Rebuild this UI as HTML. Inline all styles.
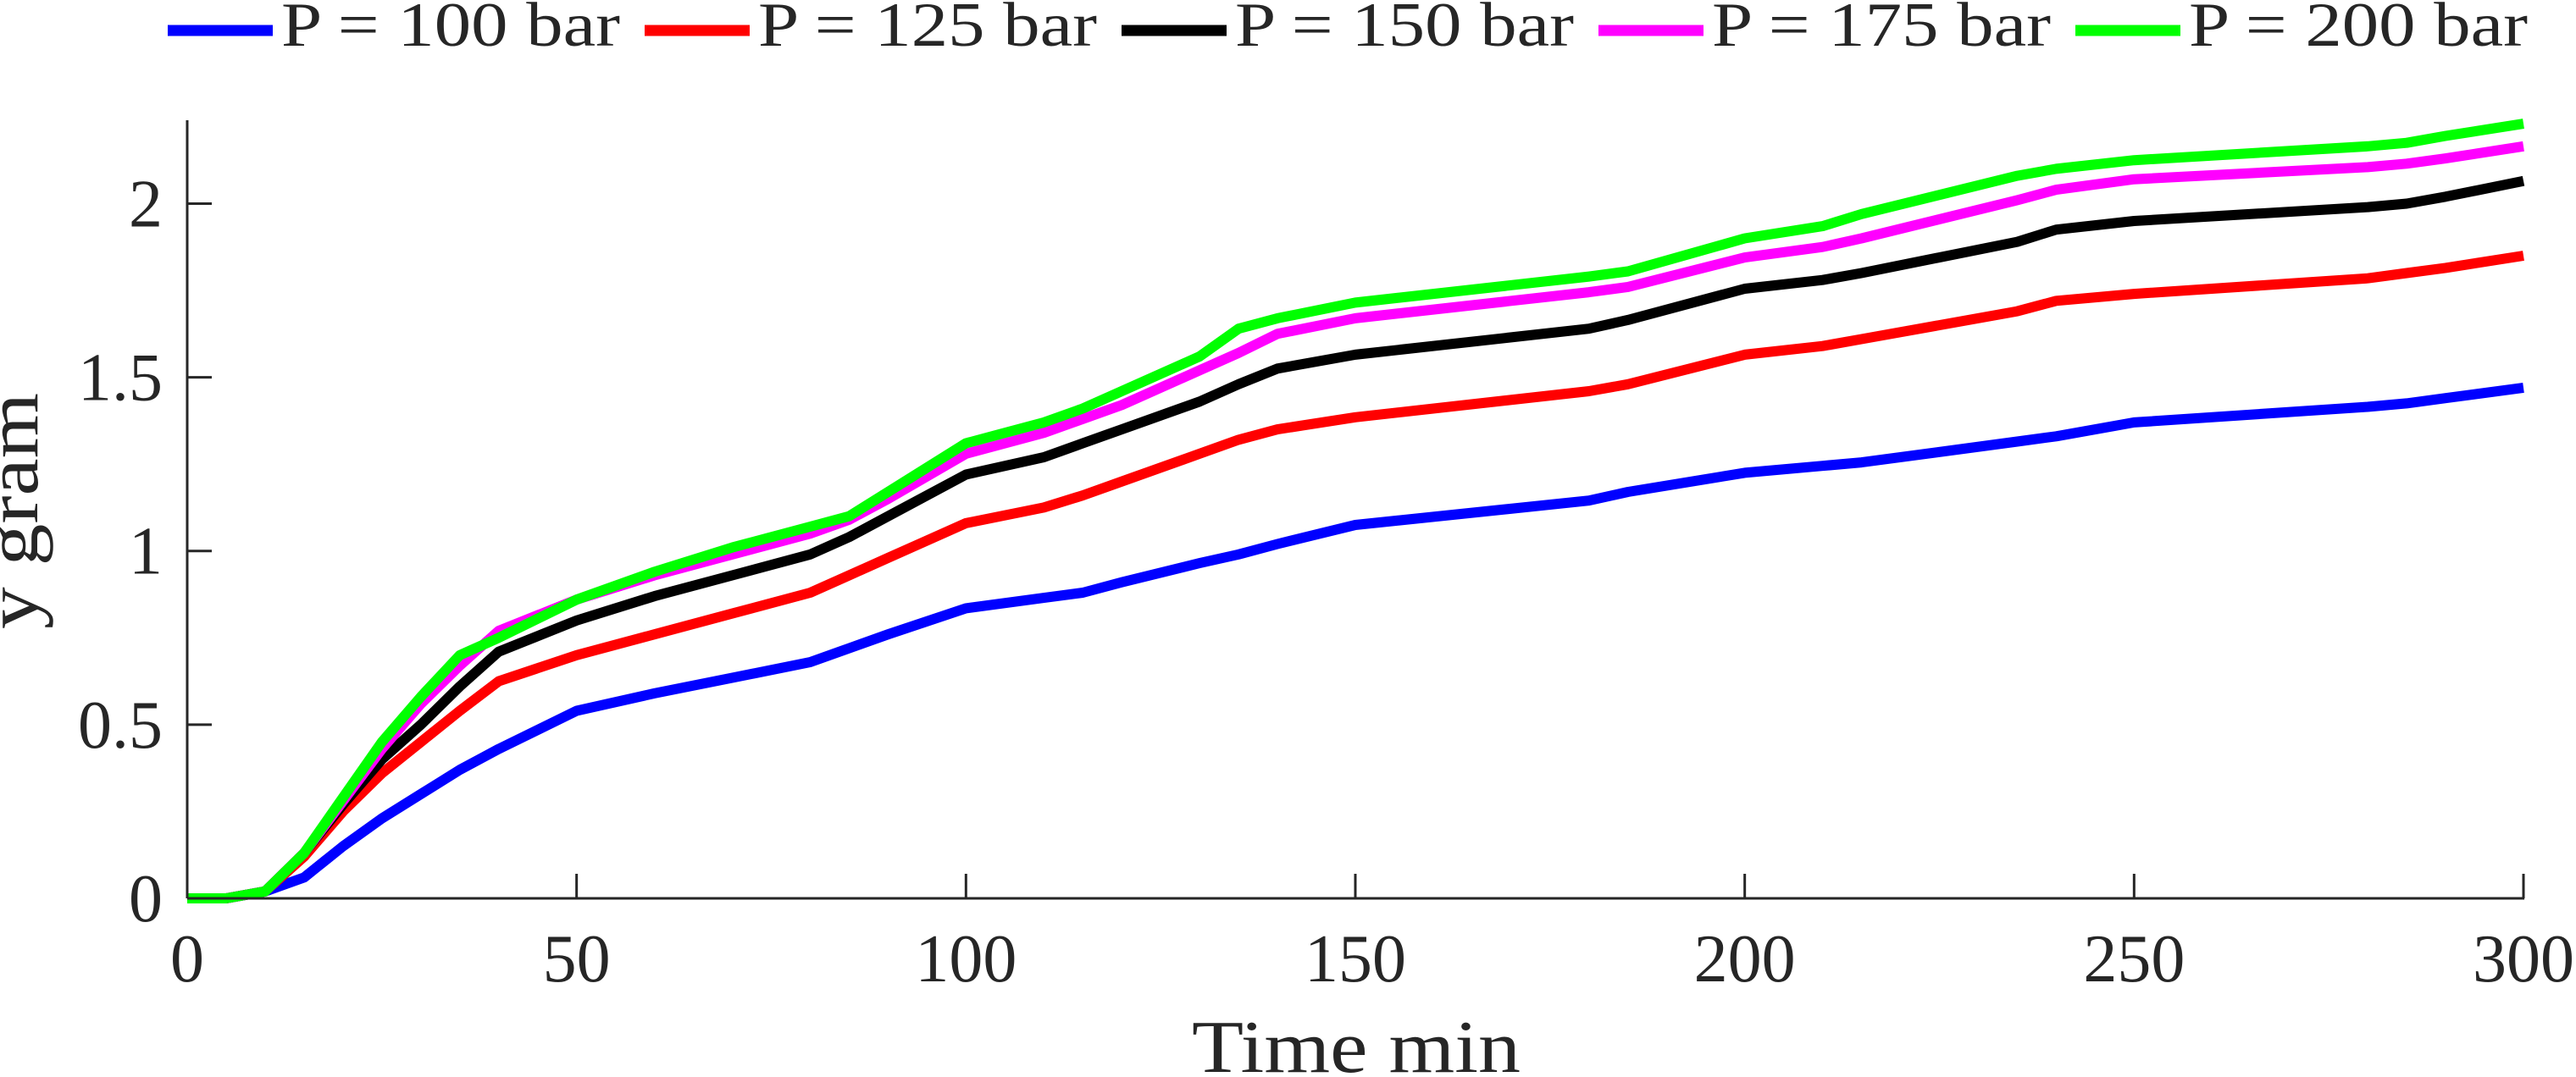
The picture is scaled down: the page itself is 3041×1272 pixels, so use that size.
<!DOCTYPE html>
<html><head><meta charset="utf-8"><style>
html,body{margin:0;padding:0;background:#fff;}
svg{display:block;}
text{font-family:"Liberation Serif",serif;fill:#262626;}
</style></head><body>
<svg id="chart" width="3041" height="1272" viewBox="0 0 3041 1272" xmlns="http://www.w3.org/2000/svg">
<g id="lines"></g>
<g id="axes"></g>
<g id="legend"></g>
</svg>
<script>
const times = [0,5,10,15,20,25,30,35,40,50,60,70,80,85,90,100,110,115,120,130,135,140,150,180,185,200,210,215,235,240,250,280,285,290,300];
const p100 = [0,0,0.02,0.06,0.15,0.23,0.3,0.37,0.43,0.54,0.59,0.635,0.68,0.72,0.76,0.835,0.865,0.88,0.91,0.965,0.99,1.02,1.075,1.145,1.17,1.225,1.245,1.255,1.315,1.33,1.37,1.415,1.425,1.44,1.47];
const p125 = [0,0,0.02,0.12,0.25,0.36,0.45,0.54,0.625,0.7,0.76,0.82,0.88,0.93,0.98,1.08,1.125,1.16,1.2,1.28,1.32,1.35,1.385,1.46,1.48,1.565,1.59,1.61,1.69,1.72,1.74,1.785,1.8,1.815,1.85];
const p150 = [0,0,0.02,0.13,0.27,0.4,0.5,0.61,0.71,0.8,0.87,0.93,0.99,1.04,1.1,1.22,1.27,1.31,1.35,1.43,1.48,1.525,1.565,1.64,1.665,1.755,1.78,1.8,1.89,1.925,1.95,1.99,2.0,2.02,2.065];
const p175 = [0,0,0.02,0.13,0.28,0.43,0.56,0.67,0.77,0.86,0.93,0.99,1.05,1.09,1.15,1.28,1.34,1.38,1.42,1.52,1.57,1.625,1.67,1.745,1.76,1.845,1.875,1.9,2.01,2.04,2.07,2.105,2.115,2.13,2.165];
const p200 = [0,0,0.02,0.13,0.29,0.45,0.58,0.7,0.75,0.86,0.94,1.01,1.07,1.1,1.17,1.31,1.37,1.41,1.46,1.56,1.64,1.67,1.715,1.79,1.805,1.9,1.935,1.97,2.08,2.1,2.125,2.165,2.175,2.195,2.23];
const seriesNames = ["P = 100 bar","P = 125 bar","P = 150 bar","P = 175 bar","P = 200 bar"];
const seriesColors = ["#0000ff","#ff0000","#000000","#ff00ff","#00ff00"];
const xTicks = [0,50,100,150,200,250,300];
const yTicks = [0,0.5,1,1.5,2];
const yTickLabels = ["0","0.5","1","1.5","2"];

const NS="http://www.w3.org/2000/svg";
const X0=221,X1=2979,Y0=1061,Ytop=142;
const xMax=300,yMax=2.24;
const sx=v=>X0+(v/xMax)*(X1-X0);
const sy=v=>Y0-(v/yMax)*(Y0-Ytop);
function mk(tag,attrs,parent){const e=document.createElementNS(NS,tag);for(const k in attrs)e.setAttribute(k,attrs[k]);parent.appendChild(e);return e;}
const gl=document.getElementById('lines'),ga=document.getElementById('axes'),gleg=document.getElementById('legend');
const allSeries=[p100,p125,p150,p175,p200];
allSeries.forEach((s,i)=>{
  const pts=times.map((t,j)=>sx(t).toFixed(1)+','+sy(s[j]).toFixed(1)).join(' ');
  const pl=mk('polyline',{points:pts,fill:'none',stroke:seriesColors[i],'stroke-width':12,'stroke-linejoin':'round'},gl);
  
  
});
const xa=mk('line',{x1:X0,y1:Y0,x2:X1+1,y2:Y0,stroke:'#262626','stroke-width':3},ga);


const ya=mk('line',{x1:X0,y1:Y0,x2:X0,y2:Ytop,stroke:'#262626','stroke-width':3},ga);


xTicks.forEach(v=>{
  const x=sx(v);
  const t=mk('line',{x1:x,y1:Y0,x2:x,y2:Y0-29,stroke:'#262626','stroke-width':3},ga);
  
  
  const l=mk('text',{x:x,y:1159,'font-size':80,'text-anchor':'middle'},ga);
  l.textContent=String(v);
  
  
});
yTicks.forEach((v,i)=>{
  const y=sy(v);
  const t=mk('line',{x1:X0,y1:y,x2:X0+29,y2:y,stroke:'#262626','stroke-width':3},ga);
  
  
  const l=mk('text',{x:192,y:y+27,'font-size':80,'text-anchor':'end'},ga);
  l.textContent=yTickLabels[i];
  
  
});
const xt=mk('text',{x:1601,y:1266,'font-size':88,'text-anchor':'middle',textLength:388,lengthAdjust:'spacingAndGlyphs'},ga);
xt.textContent='Time min';


const yt=mk('text',{x:0,y:0,'font-size':88,'text-anchor':'start',textLength:279,lengthAdjust:'spacingAndGlyphs',transform:'translate(44,743) rotate(-90)'},ga);
yt.textContent='y gram';


const legX=[198,761,1324,1887,2450];
seriesNames.forEach((n,i)=>{
  const g=mk('g',{},gleg);
  
  
  mk('line',{x1:legX[i],y1:36,x2:legX[i]+124,y2:36,stroke:seriesColors[i],'stroke-width':13},g);
  const t=mk('text',{x:legX[i]+134,y:54,'font-size':74,fill:'#000',textLength:400,lengthAdjust:'spacingAndGlyphs'},g);
  t.textContent=n;
});
</script>
</body></html>
